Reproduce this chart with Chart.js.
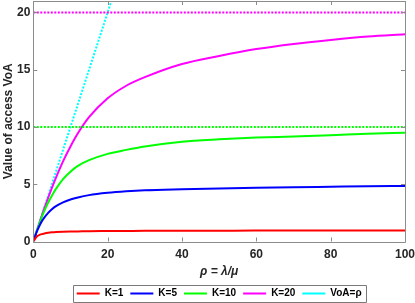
<!DOCTYPE html>
<html><head><meta charset="utf-8">
<script src="https://cdn.jsdelivr.net/npm/chart.js@4/dist/chart.umd.min.js"></script>
<style>html,body{margin:0;padding:0;background:#fff;overflow:hidden;}</style>
</head><body>
<canvas id="c" width="415" height="303" style="display:block;width:415px;height:303px"></canvas>
<script>
// ---- data ----
const rho = [0, 1, 2, 3, 4, 5, 6, 8, 10, 12, 15, 20, 25, 30, 40, 50, 60, 70, 80, 90, 100];
const voaK1  = [0, 0.45, 0.62, 0.70, 0.76, 0.80, 0.82, 0.85, 0.87, 0.88, 0.90, 0.91, 0.92, 0.93, 0.94, 0.945, 0.95, 0.95, 0.955, 0.955, 0.96];
const voaK5  = [0, 0.90, 1.60, 2.10, 2.50, 2.82, 3.07, 3.42, 3.67, 3.85, 4.05, 4.25, 4.38, 4.47, 4.56, 4.63, 4.69, 4.74, 4.78, 4.82, 4.85];
const voaK10 = [0, 0.98, 1.90, 2.70, 3.40, 4.00, 4.55, 5.45, 6.10, 6.60, 7.10, 7.65, 8.00, 8.30, 8.72, 8.93, 9.08, 9.17, 9.28, 9.40, 9.50];
const voaK20 = [0, 1.00, 1.98, 2.92, 3.82, 4.68, 5.50, 7.00, 8.30, 9.45, 10.85, 12.50, 13.60, 14.35, 15.50, 16.20, 16.80, 17.25, 17.60, 17.90, 18.10];
const voaRho = [0, 21];
const voaLine = [0, 21];
const capRho = [0, 100];
const capK10 = [10, 10];
const capK20 = [20, 20];
const seriesLabels = ['K=1', 'K=5', 'K=10', 'K=20', 'VoA=\u03C1'];
const xTicks = [0, 20, 40, 60, 80, 100];
const yTicks = [0, 5, 10, 15, 20];

const FONT = '"Liberation Sans", Arial, Helvetica, sans-serif';
const AXIS_GRAY = '#8c8c8c';
const TEXT = '#262626';

const pts = (xs, ys) => xs.map((x, i) => ({x: x, y: ys[i]}));

function lineDs(label, xs, ys, color, dash, legend) {
  return {
    label: label, data: pts(xs, ys), borderColor: color, backgroundColor: color,
    borderWidth: 2, borderDash: dash || [], pointRadius: 0, pointHoverRadius: 0,
    fill: false, cubicInterpolationMode: 'monotone', showInLegend: legend
  };
}

const datasets = [
  lineDs('', capRho, capK20, '#ff00ff', [2, 1.5], false),
  lineDs('', capRho, capK10, '#00ff00', [2, 1.5], false),
  lineDs(seriesLabels[0], rho, voaK1, '#ff0000', null, true),
  lineDs(seriesLabels[1], rho, voaK5, '#0000ff', null, true),
  lineDs(seriesLabels[2], rho, voaK10, '#00ff00', null, true),
  lineDs(seriesLabels[3], rho, voaK20, '#ff00ff', null, true),
  lineDs(seriesLabels[4], voaRho, voaLine, '#00ffff', [2, 1.5], true)
];

const framePlugin = {
  id: 'frame',
  afterLayout(chart) {
    const lg = chart.legend;
    if (lg) { lg.top += 5.5; lg.bottom += 5.5; }
  },
  afterDraw(chart) {
    const {ctx, chartArea: a, scales: {x, y}} = chart;
    ctx.save();
    ctx.strokeStyle = AXIS_GRAY;
    ctx.lineWidth = 1;
    ctx.beginPath();
    ctx.rect(Math.round(a.left) + 0.5, Math.round(a.top) + 0.5,
             Math.round(a.right) - Math.round(a.left), Math.round(a.bottom) - Math.round(a.top));
    const tl = 4;
    xTicks.forEach(v => {
      const px = Math.round(x.getPixelForValue(v)) + 0.5;
      ctx.moveTo(px, a.bottom); ctx.lineTo(px, a.bottom - tl);
      ctx.moveTo(px, a.top); ctx.lineTo(px, a.top + tl);
    });
    yTicks.forEach(v => {
      const py = Math.round(y.getPixelForValue(v)) + 0.5;
      ctx.moveTo(a.left, py); ctx.lineTo(a.left + tl, py);
      ctx.moveTo(a.right, py); ctx.lineTo(a.right - tl, py);
    });
    ctx.stroke();
    // legend frame
    const hb = chart.legend && chart.legend.legendHitBoxes;
    if (hb && hb.length) {
      const l = hb[0].left - 4, r = hb[hb.length - 1].left + hb[hb.length - 1].width + 4;
      const t = hb[0].top - 3.5, b = hb[0].top + hb[0].height + 3.5;
      ctx.beginPath();
      ctx.strokeStyle = '#7a7a7a';
      ctx.rect(Math.round(l) + 0.5, Math.round(t) + 0.5, Math.round(r - l), Math.round(b - t));
      ctx.stroke();
    }
    ctx.restore();
  }
};

new Chart(document.getElementById('c'), {
  type: 'line',
  data: {datasets: datasets},
  options: {
    responsive: false, animation: false, devicePixelRatio: 1,
    layout: {padding: {left: 0, right: 10, top: 1, bottom: 0}},
    scales: {
      x: {
        type: 'linear', min: 0, max: 100,
        grid: {display: false, drawTicks: false},
        border: {display: false},
        afterBuildTicks: s => { s.ticks = xTicks.map(v => ({value: v})); },
        ticks: {padding: 6, maxRotation: 0, color: TEXT, font: {family: FONT, size: 12, weight: 'bold'}},
        title: {display: true, text: '\u03C1 = \u03BB/\u03BC', color: TEXT,
                font: {family: FONT, size: 12, weight: 'bold', style: 'italic', lineHeight: 1},
                padding: {top: 0, bottom: -1.5}},
        afterFit: s => { s.height = 34.5; s.paddingLeft = 0; s.paddingRight = 0; }
      },
      y: {
        type: 'linear', min: 0, max: 21,
        grid: {display: false, drawTicks: false},
        border: {display: false},
        afterBuildTicks: s => { s.ticks = yTicks.map(v => ({value: v})); },
        ticks: {padding: 3, color: TEXT, font: {family: FONT, size: 12, weight: 'bold'}},
        title: {display: true, text: 'Value of access VoA', color: TEXT,
                font: {family: FONT, size: 12, weight: 'bold', lineHeight: 1.2},
                padding: {top: 1, bottom: 0}},
        afterFit: s => { s.width = 33.3; s.paddingTop = 0; s.paddingBottom = 0; }
      }
    },
    plugins: {
      tooltip: {enabled: false},
      legend: {
        display: true, position: 'bottom', fullSize: false,
        labels: {
          usePointStyle: true, pointStyle: 'line', pointStyleWidth: 23,
          padding: 7, color: '#000',
          font: {family: FONT, size: 10, weight: 'bold'},
          filter: (item, data) => data.datasets[item.datasetIndex].showInLegend
        }
      }
    }
  },
  plugins: [framePlugin]
});
</script>
</body></html>
